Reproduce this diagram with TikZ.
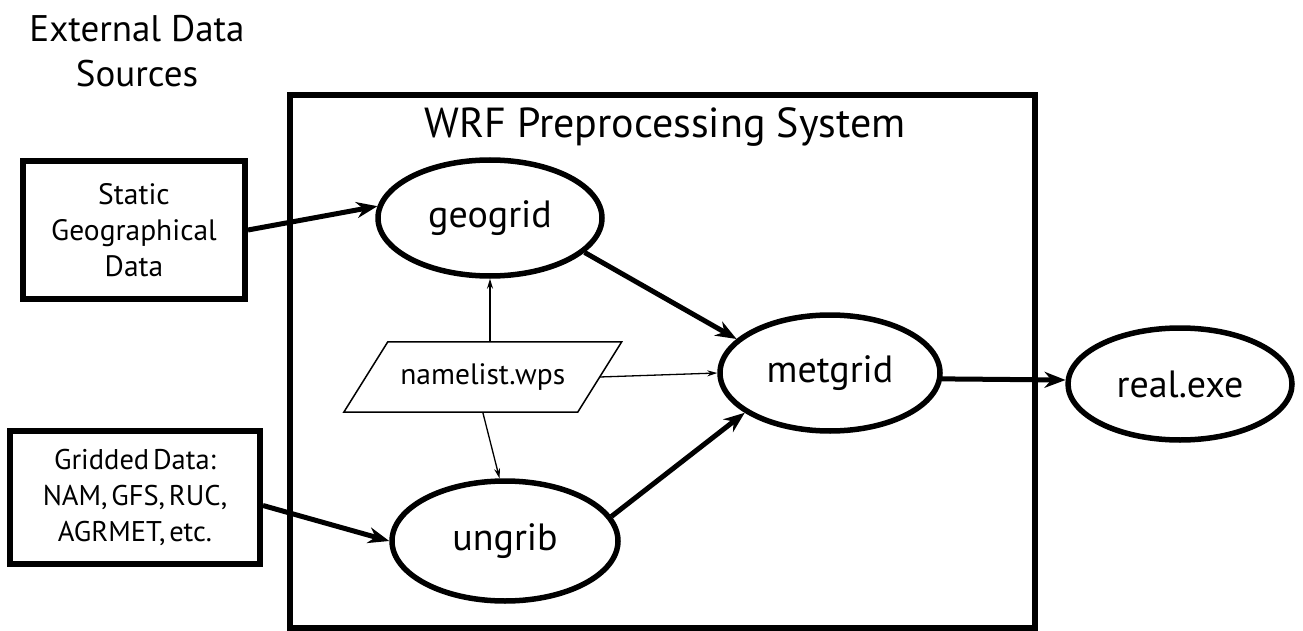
\documentclass[tikz,border=0pt]{standalone}
\usepackage{fontspec}
\setmainfont{PT Sans}
\newfontfamily\tightfont{PT Sans}[WordSpace=0.5]
\usetikzlibrary{shapes.geometric,arrows.meta}
\begin{document}
\begin{tikzpicture}[x=1pt,y=-1pt,
  ell/.style={ellipse, draw, line width=5.5pt, inner sep=0pt, font=\fontsize{38}{42}\selectfont},
  srcbox/.style={draw, line width=6pt, align=center, inner sep=0pt, font=\fontsize{29.5}{36}\selectfont},
  bigarrow/.style={line width=5pt, -{Stealth[length=21pt,width=16pt]}},
  thinarrow/.style={line width=1.3pt, -{Stealth[length=10pt,width=6pt]}},
]
\useasboundingbox (0,0) rectangle (1303,631);
\node[font=\fontsize{37}{45}\selectfont, align=center] (ext) at (137,51) {External Data\\Sources};
\node[draw, line width=6pt, minimum width=745pt, minimum height=533pt, inner sep=0pt] (wps) at (662.5,361.5) {};
\node[font=\fontsize{42}{46}\selectfont, anchor=base] (title) at (665,138) {WRF Preprocessing System};

\node[srcbox, minimum width=222pt, minimum height=138pt] (static) at (134,230) {Static\\Geographical\\Data};
\node[srcbox, minimum width=250pt, minimum height=133pt, font=\tightfont\fontsize{28.5}{36}\selectfont] (gridded) at (135,497.5) {Gridded Data:\\NAM, GFS, RUC,\\AGRMET, etc.};

\node[ell, minimum width=224pt, minimum height=116pt] (geogrid) at (490,218) {geogrid};
\node[ell, minimum width=220pt, minimum height=116pt] (metgrid) at (830,373) {metgrid};
\node[ell, minimum width=226pt, minimum height=120pt] (ungrib) at (505,541) {ungrib};
\node[ell, minimum width=224pt, minimum height=112pt] (real) at (1180,384) {real.exe};

\node[minimum width=233.5pt, minimum height=70pt, inner sep=0pt, font=\fontsize{29.5}{32}\selectfont] (nl) at (482.75,377) {namelist.wps};
\draw[line width=1.5pt, line join=miter] ([xshift=22pt]nl.north west) -- ([xshift=22pt]nl.north east)
  -- ([xshift=-22pt]nl.south east) -- ([xshift=-22pt]nl.south west) -- cycle;

\draw[bigarrow] (static.east) -- (geogrid.174);
\draw[bigarrow] ([yshift=-8pt]gridded.east) -- (ungrib.180);
\draw[bigarrow] (geogrid.-20) -- (metgrid.160);
\draw[bigarrow] (ungrib.13) -- (metgrid.205);
\draw[bigarrow] (metgrid.-3) -- (real.178);

\draw[thinarrow] (nl.north -| geogrid.south) -- (geogrid.south);
\draw[thinarrow] (nl.south) -- (ungrib.95);
\draw[thinarrow] (nl.east) -- (metgrid.west);
\end{tikzpicture}
\end{document}
